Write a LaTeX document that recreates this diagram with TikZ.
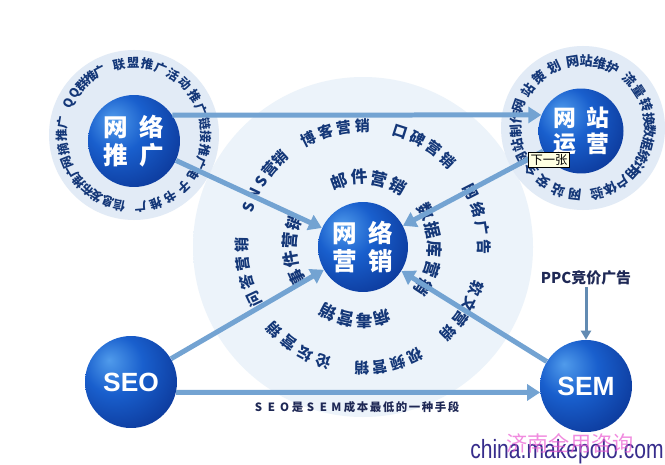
\documentclass[tikz,border=0pt]{standalone}
\usepackage{fontspec}
\setmainfont{Liberation Sans}
\newfontfamily\cjk{Noto Sans CJK SC}
\usetikzlibrary{arrows.meta,calc}

\definecolor{navy}{RGB}{20,55,120}
\definecolor{darkink}{RGB}{30,40,85}
\definecolor{arrowblue}{RGB}{115,163,210}
\definecolor{ringbg}{RGB}{226,235,246}
\definecolor{disclight}{RGB}{236,243,250}
\definecolor{discedge}{RGB}{212,227,243}
\definecolor{sphlight}{RGB}{80,155,235}
\definecolor{sphmid}{RGB}{25,95,205}
\definecolor{sphdark}{RGB}{10,50,145}
\definecolor{sphedge}{RGB}{4,20,65}
\definecolor{tipyellow}{RGB}{255,255,225}
\definecolor{markink}{RGB}{55,45,140}
\definecolor{pinkmark}{RGB}{235,90,210}

\pgfdeclareradialshading{sphere}{\pgfpoint{-12bp}{12bp}}{%
  color(0bp)=(sphlight); color(16bp)=(sphmid); color(40bp)=(sphdark);
  color(60bp)=(sphedge); color(80bp)=(sphedge)}
\pgfdeclareradialshading{bigdisc}{\pgfpoint{0bp}{0bp}}{%
  color(0bp)=(disclight); color(30bp)=(disclight); color(50bp)=(discedge)}

% characters set round a circle, clockwise, tops outward
\newcommand\ringtext[6]{%
  \foreach \ch [count=\i from 0] in {#6}{
    \pgfmathsetmacro\ang{#4-\i*(#5)}
    \node[ringchar, rotate=\ang-90] (#1-\i) at ($(#2)+(\ang:#3)$) {\ch};
  }}

\begin{document}
\begin{tikzpicture}[x=0.02cm, y=0.02cm,
    ringchar/.style={text=navy, inner sep=0pt},
    ball/.style={circle, shading=sphere, text=white, inner sep=0pt, align=center},
    flow/.style={draw=arrowblue, line width=0.1cm, -{Triangle[width=0.32cm, length=0.26cm]}},
    feed/.style={draw=arrowblue!85!black, line width=0.06cm, -{Triangle[width=0.2cm, length=0.18cm]}},
    hanzi/.style={font=\cjk\bfseries\fontsize{14}{16}\selectfont},
    tag/.style={text=darkink, inner sep=1pt}]
  \useasboundingbox (0,0) rectangle (665,464);
  \fill[white] (0,0) rectangle (665,464);

  % background discs
  \coordinate (hub) at (363,217);
  \coordinate (tuiring) at (134,329);
  \coordinate (yunring) at (583,336);
  \shade[shading=bigdisc] (hub) circle[radius=170];
  \fill[ringbg] (tuiring) circle[radius=85];
  \fill[ringbg] (yunring) circle[radius=82];

  % ring texts
  \begin{scope}[font=\cjk\bfseries\fontsize{7}{7}\selectfont]
    \ringtext{qq}{tuiring}{72}{154}{9}{Q,Q,群,推,广}
    \ringtext{lm}{tuiring}{72}{102}{11.3}{联,盟,推,广}
    \ringtext{hd}{tuiring}{72}{57}{12}{活,动,推,广}
    \ringtext{lj}{tuiring}{72}{9}{10.7}{链,接,推,广}
    \ringtext{dz}{tuiring}{72}{-33}{13}{电,子,书,推,广}
    \ringtext{xx}{tuiring}{72}{258}{9.4}{信,息,发,布,推,广}
    \ringtext{wz}{tuiring}{72}{202}{10.7}{网,摘,推,广}
  \end{scope}
  \begin{scope}[font=\cjk\bfseries\fontsize{7.5}{7.5}\selectfont]
    \ringtext{ch}{yunring}{67}{161}{15.3}{网,站,策,划}
    \ringtext{wh}{yunring}{67}{99}{11.7}{网,站,维,护}
    \ringtext{ll}{yunring}{67}{46}{13}{流,量,转,换}
    \ringtext{sj}{yunring}{67}{-3}{11}{数,据,统,计}
    \ringtext{yh}{yunring}{67}{-42}{12}{用,户,体,验}
    \ringtext{aq}{yunring}{67}{263}{14.7}{网,站,安,全}
    \ringtext{zz}{yunring}{67}{207}{12}{网,站,制,作}
  \end{scope}
  \begin{scope}[font=\cjk\bfseries\fontsize{9.5}{9.5}\selectfont]
    \ringtext{yj}{hub}{70}{110}{16.7}{邮,件,营,销}
    \ringtext{sjy}{hub}{73}{205}{15}{事,件,营,销}
    \ringtext{sjk}{hub}{72}{29.5}{15.75}{数,据,库,营,销}
    \ringtext{bd}{hub}{74}{-74.7}{14.5}{病,毒,营,销}
  \end{scope}
  \begin{scope}[font=\cjk\bfseries\fontsize{8.5}{8.5}\selectfont]
    \ringtext{bk}{hub}{121}{117}{8.9}{博,客,营,销}
    \ringtext{kb}{hub}{121}{72}{8.8}{口,碑,营,销}
    \ringtext{sns}{hub}{121}{161}{7}{S,N,S,营,销}
    \ringtext{wd}{hub}{121}{205.5}{8.8}{问,答,营,销}
    \ringtext{lt}{hub}{121}{251}{9.3}{论,坛,营,销}
    \ringtext{sp}{hub}{121}{-64.5}{8.7}{视,频,营,销}
    \ringtext{rw}{hub}{121}{-20}{8.3}{软,文,营,销}
    \ringtext{wl}{hub}{121}{27}{9}{网,络,广,告}
  \end{scope}

  % spheres
  \node[ball, hanzi, minimum size=1.8cm] (mkt) at (hub) {网\hspace{.45em}络\\营\hspace{.45em}销};
  \node[ball, hanzi, minimum size=1.84cm] (tui) at (134,323) {网\hspace{.45em}络\\推\hspace{.45em}广};
  \node[ball, hanzi, minimum size=1.7cm, font=\cjk\bfseries\fontsize{13}{15}\selectfont] (yun) at (581,333) {网\hspace{.45em}站\\运\hspace{.45em}营};
  \node[ball, font=\bfseries\fontsize{15}{15}\selectfont, minimum size=1.84cm] (seo) at (131,82) {SEO};
  \node[ball, font=\bfseries\fontsize{15}{15}\selectfont, minimum size=1.84cm] (sem) at (586,78) {SEM};

  % connectors
  \draw[flow] (tui.34) -- (yun.158);
  \draw[flow] (tui) -- (mkt);
  \draw[flow] (yun) -- (mkt);
  \draw[flow] (seo) -- (mkt);
  \draw[flow] (sem) -- (mkt);
  \draw[flow] (seo.-13) -- (sem.188);

  \node[tag, font=\cjk\bfseries\fontsize{8.5}{8.5}\selectfont] (ppc) at (586,186) {PPC竞价广告};
  \draw[feed] (ppc) -- (sem);
  \node[tag, font=\cjk\bfseries\fontsize{6.5}{6.5}\selectfont] (cost) at (356,57)
    {\foreach \c in {S,E,O,是,S,E,M,成,本,最,低,的,一,种,手,段}{\makebox[7.4pt]{\c}}};

  % tooltip and watermark
  \node[draw=black, fill=tipyellow, line width=0.4pt, inner sep=1pt, font=\cjk\fontsize{7}{7}\selectfont] (tip) at (549,304) {下一张};
  \node[anchor=base west, inner sep=0pt, text=markink, xscale=0.8, font=\fontsize{15}{15}\selectfont] (site) at (470,6) {china.makepolo.com};
  \node[text=pinkmark, opacity=.7, font=\cjk\fontsize{12}{12}\selectfont] (firm) at (570,21) {济南全用咨询};
\end{tikzpicture}
\end{document}
